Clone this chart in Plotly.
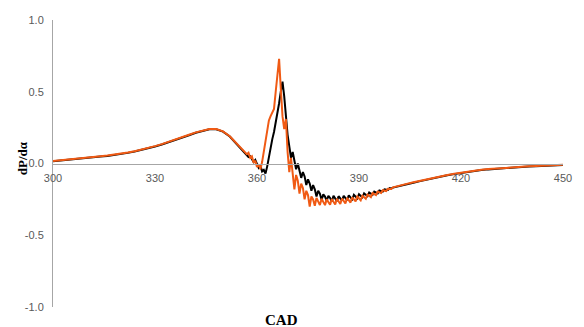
import numpy as np
import plotly.graph_objects as go

# Crank-angle sample grids (deg): coarse before/after combustion, fine around TDC
cad_early = np.arange(300, 357, 2)          # 300 .. 356
cad_comb = np.arange(357, 400.01, 0.5)      # 357 .. 400
cad_late = np.arange(402, 450.01, 2)        # 402 .. 450

# Pressure-rise rate, case 1 (black)
black_early = [0.015, 0.019, 0.023, 0.028, 0.033, 0.038, 0.043, 0.048, 0.053, 0.059,
               0.066, 0.074, 0.083, 0.093, 0.105, 0.118, 0.132, 0.147, 0.163, 0.180,
               0.197, 0.214, 0.228, 0.238, 0.238, 0.222, 0.188, 0.138, 0.088]
black_comb = [0.065, 0.045, 0.050, 0.025, 0.010, 0.025, -0.010, -0.030, -0.015, -0.055,
              -0.045, -0.070, -0.020, 0.050, 0.110, 0.170, 0.220, 0.280, 0.350, 0.420,
              0.500, 0.570, 0.470, 0.300, 0.200, 0.120, 0.040, 0.080, 0.020, -0.040,
              0.000, -0.050, -0.100, -0.060, -0.090, -0.150, -0.110, -0.140, -0.190, -0.150,
              -0.180, -0.230, -0.190, -0.210, -0.255, -0.215, -0.230, -0.260, -0.225, -0.240,
              -0.265, -0.225, -0.245, -0.262, -0.228, -0.245, -0.258, -0.225, -0.240, -0.255,
              -0.222, -0.238, -0.250, -0.218, -0.232, -0.244, -0.214, -0.226, -0.236, -0.208,
              -0.220, -0.228, -0.202, -0.212, -0.218, -0.196, -0.204, -0.208, -0.188, -0.194,
              -0.196, -0.180, -0.184, -0.184, -0.172, -0.174, -0.168]
black_late = [-0.155, -0.145, -0.134, -0.123, -0.112, -0.101, -0.091, -0.082, -0.074, -0.066,
              -0.059, -0.052, -0.046, -0.041, -0.037, -0.033, -0.029, -0.026, -0.023, -0.021,
              -0.019, -0.017, -0.015, -0.012, -0.010]

# Pressure-rise rate, case 2 (orange)
orange_early = [0.018, 0.022, 0.026, 0.031, 0.036, 0.041, 0.046, 0.051, 0.056, 0.062,
                0.069, 0.077, 0.086, 0.096, 0.108, 0.121, 0.135, 0.150, 0.166, 0.183,
                0.200, 0.217, 0.231, 0.241, 0.240, 0.224, 0.190, 0.140, 0.092]
orange_comb = [0.065, 0.075, 0.040, 0.050, 0.005, 0.020, -0.025, -0.005, -0.040, 0.010,
               0.080, 0.160, 0.240, 0.300, 0.330, 0.350, 0.380, 0.500, 0.620, 0.730,
               0.520, 0.330, 0.240, 0.310, 0.080, -0.060, 0.040, -0.050, -0.180, -0.080,
               -0.120, -0.210, -0.140, -0.170, -0.250, -0.190, -0.220, -0.300, -0.230, -0.250,
               -0.295, -0.240, -0.260, -0.290, -0.245, -0.265, -0.290, -0.250, -0.268, -0.288,
               -0.248, -0.266, -0.286, -0.246, -0.264, -0.282, -0.244, -0.260, -0.278, -0.240,
               -0.255, -0.272, -0.236, -0.250, -0.264, -0.230, -0.244, -0.256, -0.224, -0.236,
               -0.246, -0.216, -0.226, -0.234, -0.206, -0.214, -0.220, -0.196, -0.202, -0.206,
               -0.186, -0.190, -0.192, -0.176, -0.178, -0.178, -0.166]
orange_late = [-0.152, -0.142, -0.131, -0.120, -0.109, -0.099, -0.089, -0.080, -0.072, -0.064,
               -0.057, -0.050, -0.044, -0.039, -0.035, -0.031, -0.028, -0.025, -0.022, -0.020,
               -0.018, -0.016, -0.014, -0.011, -0.009]

x_ticks = [300, 330, 360, 390, 420, 450]
y_ticks = [-1.0, -0.5, 0.0, 0.5, 1.0]
y_tick_text = ["-1.0", "-0.5", "0.0", "0.5", "1.0"]

cad = np.concatenate([cad_early, cad_comb, cad_late])
black = black_early + black_comb + black_late
orange = orange_early + orange_comb + orange_late

fig = go.Figure()
fig.add_trace(go.Scatter(x=cad, y=black, mode="lines",
                         line=dict(color="#000000", width=2), showlegend=False))
fig.add_trace(go.Scatter(x=cad, y=orange, mode="lines",
                         line=dict(color="#F05A14", width=2), showlegend=False))

axis_grey = "#A6A6A6"
tick_font = dict(family="Liberation Sans, Arial, sans-serif", size=11, color="#595959")

fig.update_layout(
    width=584, height=327,
    margin=dict(l=53, r=14, t=20, b=20),
    paper_bgcolor="white", plot_bgcolor="white",
    xaxis=dict(range=[300, 450], tickvals=x_ticks, showgrid=False, zeroline=False,
               showline=True, linecolor=axis_grey, linewidth=1, ticks="",
               anchor="free", position=0.5, tickfont=tick_font,
               ticklabelstandoff=4),
    yaxis=dict(range=[-1, 1], tickvals=y_ticks, ticktext=y_tick_text, showgrid=False,
               zeroline=False, showline=True, linecolor=axis_grey, linewidth=1,
               ticks="", tickfont=tick_font, ticklabelstandoff=6),
    annotations=[
        dict(text="<b>dP/dα</b>", x=-0.06, y=0.52, xref="paper", yref="paper",
             textangle=-90, showarrow=False, xanchor="center", yanchor="middle",
             font=dict(family="Liberation Serif, Times New Roman, serif", size=13,
                       color="#000000")),
        dict(text="<b>CAD</b>", x=0.449, y=-0.045, xref="paper", yref="paper",
             showarrow=False, xanchor="center", yanchor="middle",
             font=dict(family="Liberation Serif, Times New Roman, serif", size=15,
                       color="#000000")),
    ],
)

fig.write_html("out.html")
